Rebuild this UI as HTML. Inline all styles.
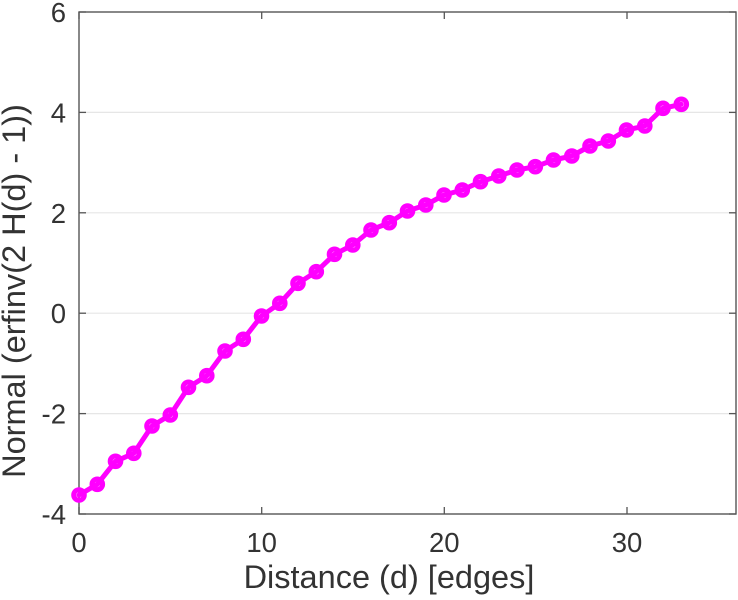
<!DOCTYPE html>
<html>
<head>
<meta charset="utf-8">
<style>
html,body{margin:0;padding:0;background:#fff;}
svg{display:block;}
text{font-family:"Liberation Sans",Arial,sans-serif;fill:#333;}
</style>
</head>
<body>
<svg width="738" height="600" viewBox="0 0 738 600" xmlns="http://www.w3.org/2000/svg">
  <rect x="0" y="0" width="738" height="600" fill="#fff"/>
  <!-- grid -->
  <g stroke="#e6e6e6" stroke-width="1.2">
    <line x1="79" y1="112.4" x2="736" y2="112.4"/>
    <line x1="79" y1="212.8" x2="736" y2="212.8"/>
    <line x1="79" y1="313.2" x2="736" y2="313.2"/>
    <line x1="79" y1="413.6" x2="736" y2="413.6"/>
  </g>
  <!-- axes box -->
  <rect x="79" y="12" width="657" height="502" fill="none" stroke="#555" stroke-width="1.4"/>
  <!-- ticks -->
  <g stroke="#555" stroke-width="1.3">
    <line x1="79" y1="514" x2="79" y2="507"/>
    <line x1="261.7" y1="514" x2="261.7" y2="507"/>
    <line x1="444.3" y1="514" x2="444.3" y2="507"/>
    <line x1="627" y1="514" x2="627" y2="507"/>
    <line x1="79" y1="12" x2="79" y2="19"/>
    <line x1="261.7" y1="12" x2="261.7" y2="19"/>
    <line x1="444.3" y1="12" x2="444.3" y2="19"/>
    <line x1="627" y1="12" x2="627" y2="19"/>
    <line x1="79" y1="12" x2="86" y2="12"/>
    <line x1="79" y1="112.4" x2="86" y2="112.4"/>
    <line x1="79" y1="212.8" x2="86" y2="212.8"/>
    <line x1="79" y1="313.2" x2="86" y2="313.2"/>
    <line x1="79" y1="413.6" x2="86" y2="413.6"/>
    <line x1="79" y1="514" x2="86" y2="514"/>
    <line x1="736" y1="12" x2="729" y2="12"/>
    <line x1="736" y1="112.4" x2="729" y2="112.4"/>
    <line x1="736" y1="212.8" x2="729" y2="212.8"/>
    <line x1="736" y1="313.2" x2="729" y2="313.2"/>
    <line x1="736" y1="413.6" x2="729" y2="413.6"/>
    <line x1="736" y1="514" x2="729" y2="514"/>
  </g>
  <!-- y tick labels -->
  <g font-size="27.5" text-anchor="end">
    <text x="66" y="22">6</text>
    <text x="66" y="122.4">4</text>
    <text x="66" y="222.8">2</text>
    <text x="66" y="323.2">0</text>
    <text x="66" y="423.6">-2</text>
    <text x="66" y="524">-4</text>
  </g>
  <!-- x tick labels -->
  <g font-size="27.5" text-anchor="middle">
    <text x="79" y="552">0</text>
    <text x="261.7" y="552">10</text>
    <text x="444.3" y="552">20</text>
    <text x="627" y="552">30</text>
  </g>
  <!-- axis labels -->
  <text x="389" y="588" font-size="32.5" text-anchor="middle">Distance (d) [edges]</text>
  <text transform="translate(25,291) rotate(-90)" font-size="32.5" text-anchor="middle">Normal (erfinv(2 H(d) - 1))</text>
  <!-- series -->
  <g fill="none" stroke="#ff00ff" stroke-width="5" stroke-linejoin="round" stroke-linecap="round">
    <polyline points="79,495 97.3,484.3 115.5,461.3 133.8,453.3 152,426 170.3,415 188.5,387.3 206.8,375.7 225,351 243.3,339.3 261.5,316 279.8,303.3 298,283.3 316.3,271.7 334.5,254.3 352.8,245 371,230 389.3,222.7 407.5,211 425.8,205 444,195 462.3,190 480.5,181.7 498.8,176 517,170 535.3,166.7 553.5,160 571.8,156 590,146 608.3,141 626.5,130 644.8,126 663,108.3 681.3,104.3"/>
  </g>
  <g fill="none" stroke="#ff00ff" stroke-width="5">
    <circle cx="79" cy="495" r="5.3"/>
    <circle cx="97.3" cy="484.3" r="5.3"/>
    <circle cx="115.5" cy="461.3" r="5.3"/>
    <circle cx="133.8" cy="453.3" r="5.3"/>
    <circle cx="152" cy="426" r="5.3"/>
    <circle cx="170.3" cy="415" r="5.3"/>
    <circle cx="188.5" cy="387.3" r="5.3"/>
    <circle cx="206.8" cy="375.7" r="5.3"/>
    <circle cx="225" cy="351" r="5.3"/>
    <circle cx="243.3" cy="339.3" r="5.3"/>
    <circle cx="261.5" cy="316" r="5.3"/>
    <circle cx="279.8" cy="303.3" r="5.3"/>
    <circle cx="298" cy="283.3" r="5.3"/>
    <circle cx="316.3" cy="271.7" r="5.3"/>
    <circle cx="334.5" cy="254.3" r="5.3"/>
    <circle cx="352.8" cy="245" r="5.3"/>
    <circle cx="371" cy="230" r="5.3"/>
    <circle cx="389.3" cy="222.7" r="5.3"/>
    <circle cx="407.5" cy="211" r="5.3"/>
    <circle cx="425.8" cy="205" r="5.3"/>
    <circle cx="444" cy="195" r="5.3"/>
    <circle cx="462.3" cy="190" r="5.3"/>
    <circle cx="480.5" cy="181.7" r="5.3"/>
    <circle cx="498.8" cy="176" r="5.3"/>
    <circle cx="517" cy="170" r="5.3"/>
    <circle cx="535.3" cy="166.7" r="5.3"/>
    <circle cx="553.5" cy="160" r="5.3"/>
    <circle cx="571.8" cy="156" r="5.3"/>
    <circle cx="590" cy="146" r="5.3"/>
    <circle cx="608.3" cy="141" r="5.3"/>
    <circle cx="626.5" cy="130" r="5.3"/>
    <circle cx="644.8" cy="126" r="5.3"/>
    <circle cx="663" cy="108.3" r="5.3"/>
    <circle cx="681.3" cy="104.3" r="5.3"/>
  </g>
</svg>
</body>
</html>
